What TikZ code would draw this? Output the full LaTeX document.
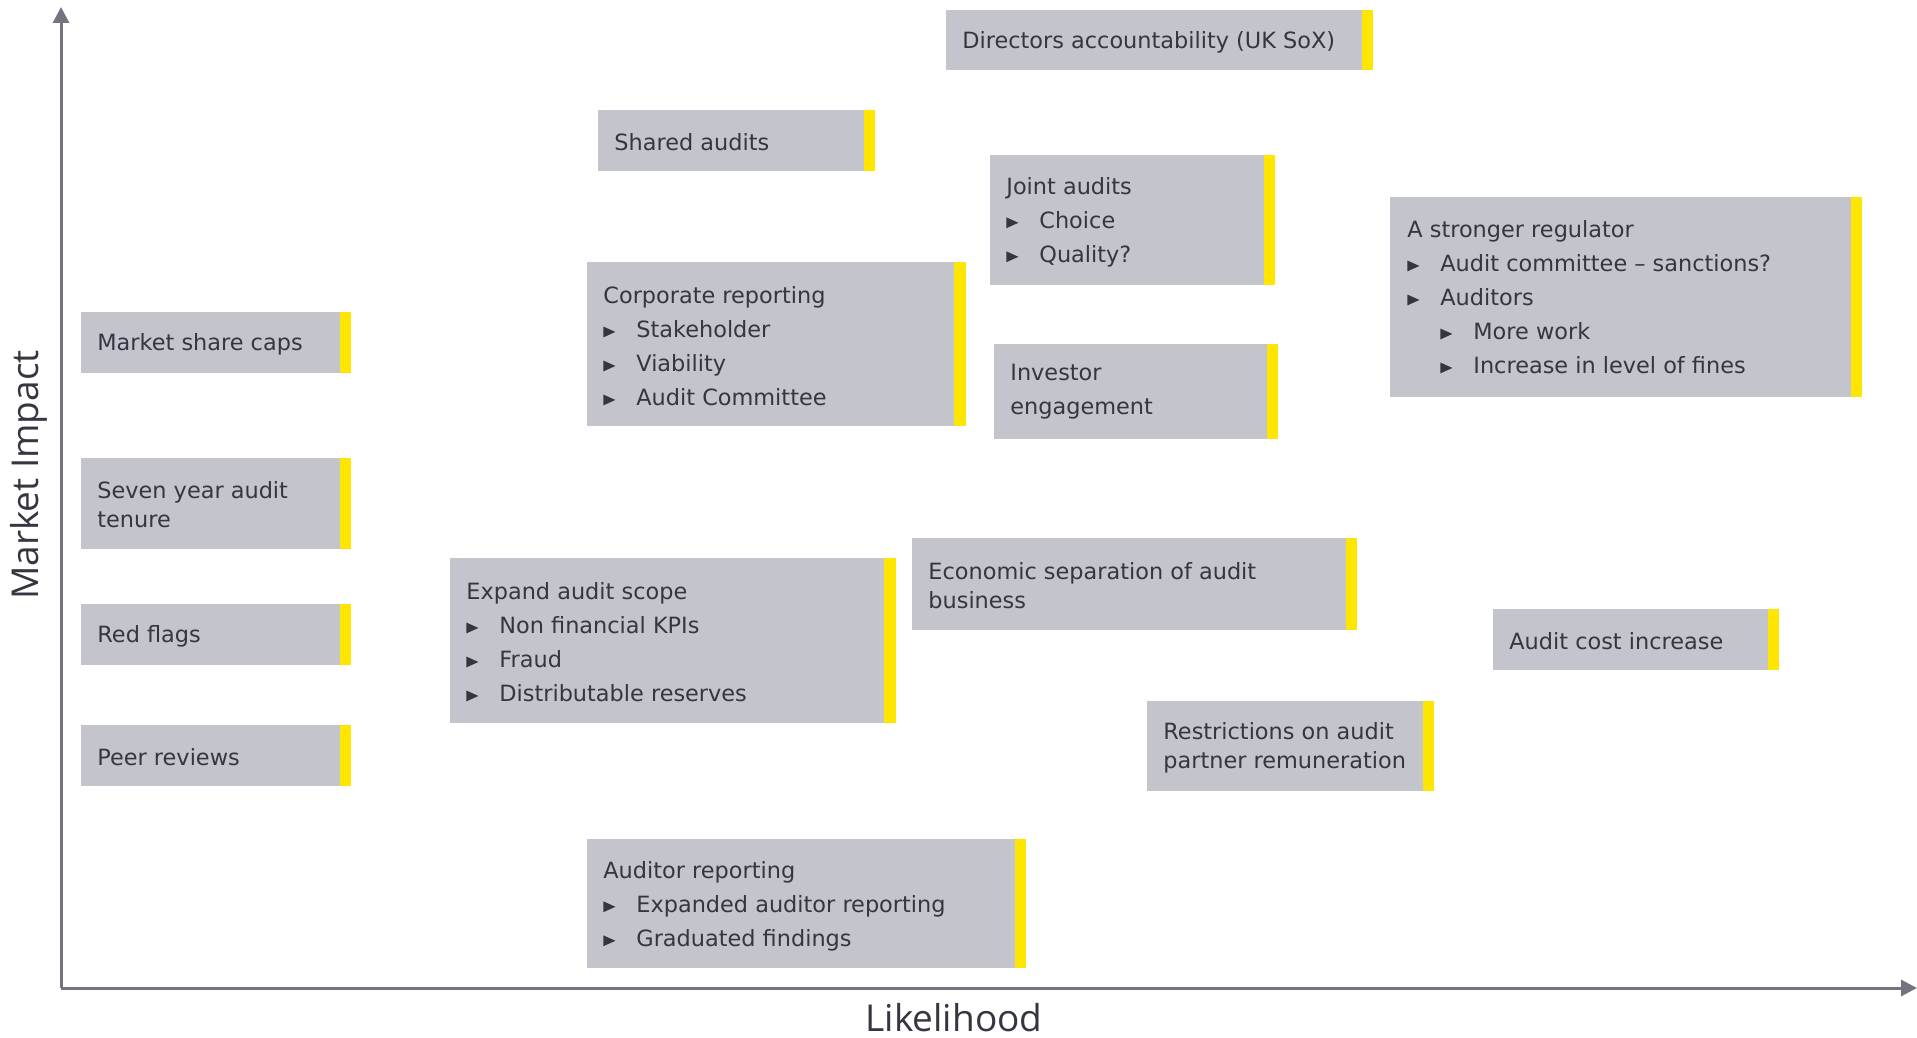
\documentclass[tikz,border=0pt]{standalone}
\usepackage{fontspec}
\setmainfont{DejaVu Sans}
\newfontfamily\labfont{Open Sans}
\usetikzlibrary{arrows.meta}
\definecolor{boxgray}{HTML}{C4C4CD}
\definecolor{eyyellow}{HTML}{FFE600}
\definecolor{axisgray}{HTML}{747480}
\definecolor{txtcol}{HTML}{363642}
\newcommand{\bul}{\makebox[16.5pt][l]{\tikz[baseline=0pt]\fill[txtcol] (0.6pt,0pt)--(6.6pt,2.7pt)--(0.6pt,5.4pt)--cycle;}}
\newcommand{\subbul}{\hspace*{16.5pt}\bul}
\newcommand{\rbox}[6]{%
  \node[boxst, minimum width={(#4-#2)*0.5pt}, minimum height={(#5-#3)*0.5pt}] (#1) at (#2,#3) {};
  \node[barst, minimum width={(#6-#4)*0.5pt}, minimum height={(#5-#3)*0.5pt}] (#1bar) at (#4,#3) {};
}
\tikzset{
  boxst/.style={fill=boxgray, anchor=north west, inner sep=0pt, outer sep=0pt},
  barst/.style={fill=eyyellow, anchor=north west, inner sep=0pt, outer sep=0pt},
  txtst/.style={anchor=west, inner sep=0pt, align=left, text=txtcol, font=\fontsize{11.2pt}{17pt}\selectfont},
  wrapst/.style={txtst, font=\fontsize{11.2pt}{14.5pt}\selectfont},
  axisst/.style={draw=axisgray, line width=1.5pt, -{Triangle[width=8pt,length=8pt]}},
  lblst/.style={text=txtcol, font=\labfont\fontsize{18.5pt}{22pt}\selectfont, inner sep=0pt}
}
\begin{document}
\begin{tikzpicture}[x=0.5pt,y=-0.5pt]
\useasboundingbox[fill=white] (0,0) rectangle (1917,1038);
% axes
\coordinate (o) at (61,988);
\coordinate (ytip) at (61,7);
\coordinate (xtip) at (1917,988);
\draw[axisst] (o) -- (ytip);
\draw[axisst] (o) -- (xtip);
\node[lblst] (xlab) at (954,1018) {Likelihood};
\node[lblst, rotate=90] (ylab) at (29,475) {Market Impact};
% boxes
\rbox{dir}{946}{10}{1362}{70}{1373}
\rbox{shared}{598}{110}{864}{171}{875}
\rbox{joint}{990}{155}{1264}{285}{1275}
\rbox{reg}{1390}{197}{1851}{397}{1862}
\rbox{msc}{81}{312}{340}{373}{351}
\rbox{corp}{587}{262}{954}{426}{966}
\rbox{inv}{994}{344}{1267}{439}{1278}
\rbox{seven}{81}{458}{340}{549}{351}
\rbox{red}{81}{604}{340}{665}{351}
\rbox{peer}{81}{725}{340}{786}{351}
\rbox{expand}{450}{558}{884}{723}{896}
\rbox{econ}{912}{538}{1346}{630}{1357}
\rbox{cost}{1493}{609}{1768}{670}{1779}
\rbox{restr}{1147}{701}{1423}{791}{1434}
\rbox{auditor}{587}{839}{1015}{968}{1026}
% texts
\node[txtst] (dirt) at (962,42) {Directors accountability (UK SoX)};
\node[txtst] (sharedt) at (614,142) {Shared audits};
\node[txtst] (jointt) at (1006,222) {Joint audits\\\bul Choice\\\bul Quality?};
\node[txtst] (regt) at (1407,297) {A stronger regulator\\\bul Audit committee -- sanctions?\\\bul Auditors\\\subbul More work\\\subbul Increase in level of fines};
\node[txtst] (msct) at (97,344) {Market share caps};
\node[txtst] (corpt) at (603,346) {Corporate reporting\\\bul Stakeholder\\\bul Viability\\\bul Audit Committee};
\node[txtst] (invt) at (1010,392) {Investor\\engagement};
\node[wrapst] (sevent) at (97,505) {Seven year audit\\tenure};
\node[txtst] (redt) at (97,636) {Red flags};
\node[txtst] (peert) at (97,757) {Peer reviews};
\node[txtst] (expandt) at (466,642) {Expand audit scope\\\bul Non financial KPIs\\\bul Fraud\\\bul Distributable reserves};
\node[wrapst] (econt) at (928,586) {Economic separation of audit\\business};
\node[txtst] (costt) at (1509,641) {Audit cost increase};
\node[wrapst] (restrt) at (1163,748) {Restrictions on audit\\partner remuneration};
\node[txtst] (auditort) at (603,906) {Auditor reporting\\\bul Expanded auditor reporting\\\bul Graduated findings};
\end{tikzpicture}
\end{document}
